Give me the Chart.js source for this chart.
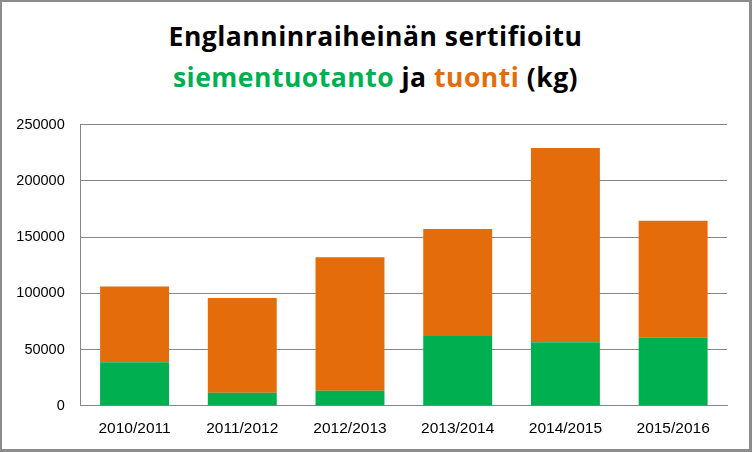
<!DOCTYPE html>
<html>
<head>
<meta charset="utf-8">
<script src="https://cdn.jsdelivr.net/npm/chart.js@4"></script>
<style>
  html, body { margin: 0; padding: 0; background: #fff; }
  #wrap { position: relative; width: 752px; height: 452px; box-sizing: border-box; border: 2px solid #8c8c8c; border-right-width: 3px; border-bottom-width: 3px; }
  #title { position: absolute; left: 0; right: 0; top: 14px; text-align: center; font-family: "Open Sans", sans-serif; font-weight: bold; font-size: 26.5px; letter-spacing: 0.5px; line-height: 41px; color: #000; }
  .g { color: #00b050; }
  .o { color: #e46c0a; }
  canvas { position: absolute; left: 0; top: 0; }
</style>
</head>
<body>
<div id="wrap">
  <div id="title">Englanninraiheinän sertifioitu<br><span class="g">siementuotanto</span> ja <span class="o">tuonti</span> (kg)</div>
  <canvas id="chart1" width="747" height="447"></canvas>
</div>
<script>
// vuodet ja määrät (kg)
const kaudet = ['2010/2011', '2011/2012', '2012/2013', '2013/2014', '2014/2015', '2015/2016'];
const siementuotanto = [38600, 11600, 13300, 62000, 56400, 60500];
const tuonti = [67400, 84200, 118700, 95100, 172800, 104000];
const yTicks = [0, 50000, 100000, 150000, 200000, 250000];

const ctx = document.getElementById('chart1').getContext('2d');
new Chart(ctx, {
    type: 'bar',
    data: {
        labels: kaudet,
        datasets: [
            { label: 'siementuotanto', data: siementuotanto, backgroundColor: '#00b050' },
            { label: 'tuonti', data: tuonti, backgroundColor: '#e46c0a' }
        ]
    },
    options: {
        responsive: false,
        animation: false,
        layout: { padding: { top: 122.7, right: 22, left: 0, bottom: 0 } },
        plugins: { legend: { display: false }, tooltip: { enabled: false } },
        datasets: { bar: { categoryPercentage: 0.64, barPercentage: 1 } },
        scales: {
            x: {
                stacked: true,
                afterFit: s => { s.height = 43.3; },
                grid: { display: false, drawTicks: false },
                border: { color: '#868686', width: 1 },
                ticks: { color: '#000', font: { family: 'Liberation Sans', size: 15.5 }, padding: 14 }
            },
            y: {
                stacked: true,
                min: yTicks[0],
                max: yTicks[yTicks.length - 1],
                afterFit: s => { s.width = 78.7; },
                grid: { color: '#868686', drawTicks: false },
                border: { color: '#868686', width: 1 },
                ticks: {
                    stepSize: 50000,
                    color: '#000',
                    font: { family: 'Liberation Sans', size: 14.5 },
                    padding: 16,
                    callback: v => String(v)
                }
            }
        }
    }
});
</script>
</body>
</html>
